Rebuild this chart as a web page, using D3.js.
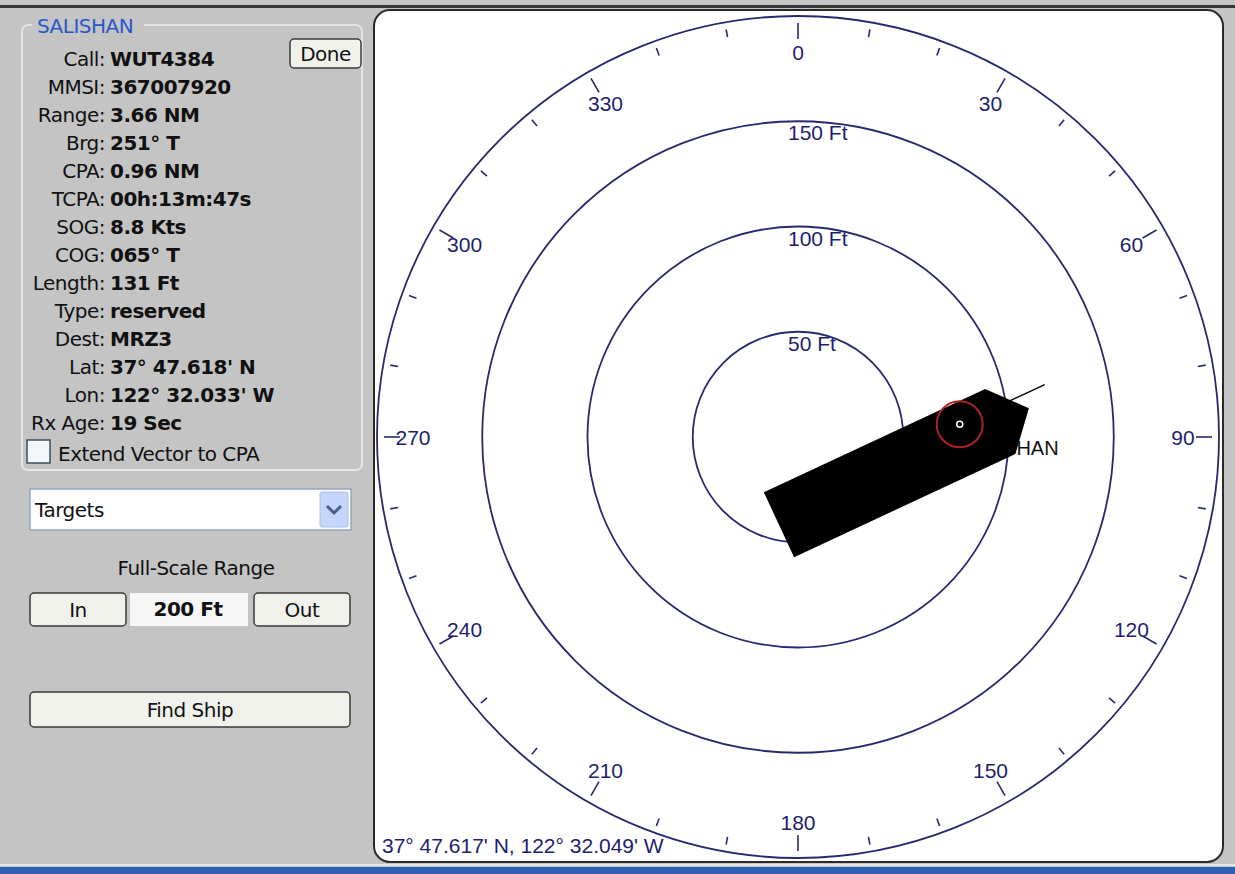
<!DOCTYPE html>
<html>
<head>
<meta charset="utf-8">
<style>
body { margin: 0; background: #c4c4c4; }
svg { display: block; }
.panel text { font-family: "DejaVu Sans", sans-serif; font-size: 20px; letter-spacing: -0.5px; fill: #111; }
.panel text.val { font-weight: bold; }
.radar text { font-family: "Liberation Sans", Arial, sans-serif; font-size: 21px; fill: #1e1e6e; }
</style>
</head>
<body>
<svg width="1235" height="874"></svg>
<script src="https://cdn.jsdelivr.net/npm/d3@7"></script>
<script>
// ---- data ----
var targetName = "SALISHAN";
var infoLabels = ["Call:", "MMSI:", "Range:", "Brg:", "CPA:", "TCPA:", "SOG:", "COG:",
                  "Length:", "Type:", "Dest:", "Lat:", "Lon:", "Rx Age:"];
var infoValues = ["WUT4384", "367007920", "3.66 NM", "251° T", "0.96 NM", "00h:13m:47s", "8.8 Kts", "065° T",
                  "131 Ft", "reserved", "MRZ3", "37° 47.618' N", "122° 32.033' W", "19 Sec"];
var bearingLabels = [0, 30, 60, 90, 120, 150, 180, 210, 240, 270, 300, 330];
var ringRanges = [50, 100, 150];
var fullScaleFt = 200;
var centerLatLon = [37, 47.617, 122, 32.049];   // deg, min N / deg, min W
var targetLatLon = [37, 47.618, 122, 32.033];
var shipCog = 65;          // deg true
var shipSog = 8.8;         // knots
var shipDims = [33, 98, 10, 24];  // antenna to bow, stern, port, starboard (ft)
var bowTaper = 15;         // ft
var vectorSeconds = 3;

var svg = d3.select("svg");
var W = +svg.attr("width"), H = +svg.attr("height");

// ---- window chrome ----
svg.append("rect").attr("x", 0).attr("y", 0).attr("width", W).attr("height", H).attr("fill", "#c4c4c4");
svg.append("rect").attr("x", 0).attr("y", 5).attr("width", W).attr("height", 3).attr("fill", "#383838");
svg.append("rect").attr("x", 0).attr("y", 864).attr("width", W).attr("height", 2).attr("fill", "#e6e6e6");
svg.append("rect").attr("x", 0).attr("y", 867).attr("width", W).attr("height", 7).attr("fill", "#2f5fb6");

// ---- left info panel ----
var panel = svg.append("g").attr("class", "panel");

panel.append("rect")
    .attr("x", 22).attr("y", 25).attr("width", 340).attr("height", 445).attr("rx", 6)
    .attr("fill", "none").attr("stroke", "#e4e4e4").attr("stroke-width", 2);
panel.append("rect").attr("x", 32).attr("y", 14).attr("width", 112).attr("height", 22).attr("fill", "#c4c4c4");
panel.append("text").attr("x", 37).attr("y", 33).style("fill", "#2a58cc").text(targetName);

var rowY = function(i) { return 66 + i * 28; };

var rows = panel.selectAll("g.row").data(infoLabels).enter().append("g").attr("class", "row");
rows.append("text")
    .attr("x", 105).attr("y", function(d, i) { return rowY(i); })
    .attr("text-anchor", "end")
    .text(function(d) { return d; });
rows.append("text")
    .attr("class", "val")
    .attr("x", 110).attr("y", function(d, i) { return rowY(i); })
    .text(function(d, i) { return infoValues[i]; });

function button(x, y, w, h, label, bold) {
  var g = panel.append("g");
  g.append("rect").attr("x", x).attr("y", y).attr("width", w).attr("height", h).attr("rx", 4)
    .attr("fill", "#f1f1ec").attr("stroke", "#3a3a3a").attr("stroke-width", 1.5);
  g.append("text").attr("x", x + w / 2).attr("y", y + h / 2 + 7).attr("text-anchor", "middle")
    .attr("class", bold ? "val" : null).text(label);
}

button(290, 39, 71, 29, "Done");

// checkbox
panel.append("rect").attr("x", 27).attr("y", 440).attr("width", 23).attr("height", 23)
    .attr("fill", "#f3f7fa").attr("stroke", "#3c4c5c").attr("stroke-width", 1.5);
panel.append("text").attr("x", 58).attr("y", 461).text("Extend Vector to CPA");

// dropdown
panel.append("rect").attr("x", 30).attr("y", 489).attr("width", 321).attr("height", 41)
    .attr("fill", "#ffffff").attr("stroke", "#8fa6bd").attr("stroke-width", 1.5);
panel.append("rect").attr("x", 320).attr("y", 492).attr("width", 28).attr("height", 35).attr("rx", 2)
    .attr("fill", "#c4d6fa").attr("stroke", "#aac0ea");
panel.append("path").attr("d", "M327,506 L334,513 L341,506")
    .attr("fill", "none").attr("stroke", "#4a5f8a").attr("stroke-width", 3);
panel.append("text").attr("x", 35).attr("y", 517).text("Targets");

panel.append("text").attr("x", 196).attr("y", 575).attr("text-anchor", "middle").text("Full-Scale Range");
button(30, 593, 96, 33, "In");
panel.append("rect").attr("x", 130).attr("y", 593).attr("width", 118).attr("height", 33).attr("fill", "#f6f6f6");
panel.append("text").attr("class", "val").attr("x", 188).attr("y", 616).attr("text-anchor", "middle")
    .text(fullScaleFt + " Ft");
button(254, 593, 96, 33, "Out");
button(30, 692, 320, 35, "Find Ship");

// ---- radar view ----
var radar = svg.append("g").attr("class", "radar");
radar.append("rect")
    .attr("x", 374).attr("y", 10).attr("width", 849).attr("height", 852).attr("rx", 16)
    .attr("fill", "#ffffff").attr("stroke", "#2a2a2a").attr("stroke-width", 2);

var cx = 798, cy = 437;
var rScale = d3.scaleLinear().domain([0, fullScaleFt]).range([0, 421]);
var aScale = d3.scaleLinear().domain([0, 360]).range([0, 2 * Math.PI]);
var R = rScale(fullScaleFt);
var navy = "#28286e";

function polar(bearing, r) {
  var a = aScale(bearing);
  return [cx + r * Math.sin(a), cy - r * Math.cos(a)];
}

// outer compass ring and range rings
radar.selectAll("circle.ring").data(ringRanges.concat([fullScaleFt])).enter().append("circle")
    .attr("class", "ring")
    .attr("cx", cx).attr("cy", cy).attr("r", function(d) { return rScale(d); })
    .attr("fill", "none").attr("stroke", navy).attr("stroke-width", 1.8);

radar.selectAll("text.ringlab").data(ringRanges).enter().append("text")
    .attr("class", "ringlab")
    .attr("x", cx - 10).attr("y", function(d) { return cy - rScale(d) + 19; })
    .text(function(d) { return d + " Ft"; });

// bearing ticks
var tickBearings = d3.range(0, 360, 10);
radar.selectAll("line.tick").data(tickBearings).enter().append("line")
    .attr("class", "tick")
    .each(function(d) {
      var major = d % 30 === 0;
      var p1 = polar(d, major ? R - 23 : R - 15);
      var p2 = polar(d, R - 7);
      d3.select(this).attr("x1", p1[0]).attr("y1", p1[1]).attr("x2", p2[0]).attr("y2", p2[1]);
    })
    .attr("stroke", navy).attr("stroke-width", 1.6);

radar.selectAll("text.brg").data(bearingLabels).enter().append("text")
    .attr("class", "brg")
    .attr("x", function(d) { return polar(d, R - 36)[0]; })
    .attr("y", function(d) { return polar(d, R - 36)[1]; })
    .attr("dy", "0.36em")
    .attr("text-anchor", "middle")
    .text(function(d) { return d; });

// position of view centre
radar.append("text").attr("x", 382).attr("y", 853)
    .text(centerLatLon[0] + "° " + centerLatLon[1].toFixed(3) + "' N, " +
          centerLatLon[2] + "° " + centerLatLon[3].toFixed(3) + "' W");

// ---- target ship ----
var ftPerMin = 6076.12;
var latC = centerLatLon[0] + centerLatLon[1] / 60, latT = targetLatLon[0] + targetLatLon[1] / 60;
var lonC = -(centerLatLon[2] + centerLatLon[3] / 60), lonT = -(targetLatLon[2] + targetLatLon[3] / 60);
var northFt = (latT - latC) * 60 * ftPerMin;
var eastFt = (lonT - lonC) * 60 * ftPerMin * Math.cos(latC * Math.PI / 180);
var k = rScale(1) - rScale(0);
var ant = [cx + eastFt * k, cy - northFt * k];

var h = aScale(shipCog);
var fwd = [Math.sin(h), -Math.cos(h)], stbd = [Math.cos(h), Math.sin(h)];
function shipPt(f, s) {
  return [ant[0] + k * (f * fwd[0] + s * stbd[0]), ant[1] + k * (f * fwd[1] + s * stbd[1])];
}
var A = shipDims[0], B = shipDims[1], C = shipDims[2], D = shipDims[3];
var hull = [[-B, -C], [A - bowTaper, -C], [A, (D - C) / 2], [A - bowTaper, D], [-B, D]].map(function(p) {
  return shipPt(p[0], p[1]);
});

radar.append("text").attr("x", ant[0]).attr("y", ant[1] + 31)
    .style("fill", "#111").style("font-size", "20px").text(targetName);

radar.append("path").datum(hull)
    .attr("d", d3.line())
    .attr("fill", "#000");

var vecFt = shipSog * 1.68781 * vectorSeconds;
var vEnd = shipPt(vecFt, 0);
radar.append("line")
    .attr("x1", ant[0]).attr("y1", ant[1]).attr("x2", vEnd[0]).attr("y2", vEnd[1])
    .attr("stroke", "#000").attr("stroke-width", 1.5);

radar.append("circle").attr("cx", ant[0]).attr("cy", ant[1]).attr("r", 23)
    .attr("fill", "none").attr("stroke", "#b02222").attr("stroke-width", 2);
radar.append("circle").attr("cx", ant[0]).attr("cy", ant[1]).attr("r", 3)
    .attr("fill", "none").attr("stroke", "#ffffff").attr("stroke-width", 1.5);
</script>
</body>
</html>
